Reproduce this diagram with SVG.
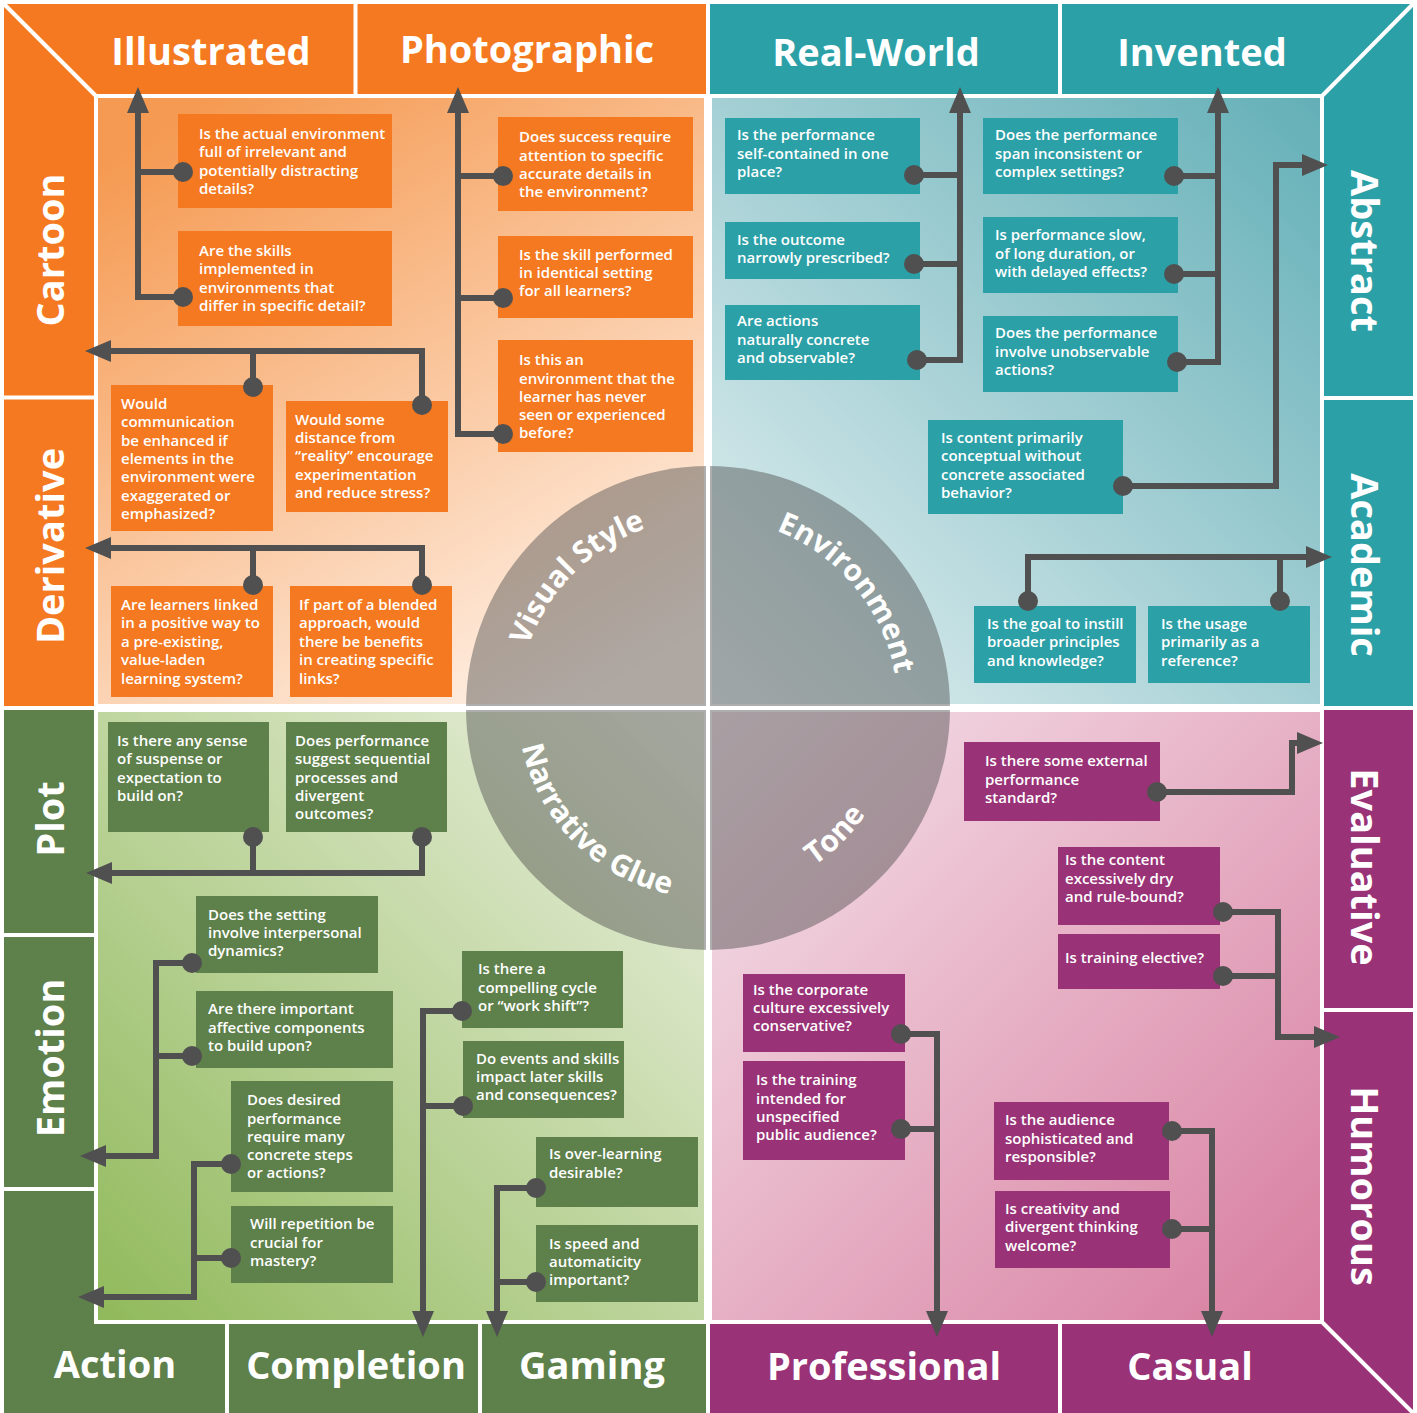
<svg xmlns="http://www.w3.org/2000/svg" width="1417" height="1413" viewBox="0 0 1417 1413">
<defs>
<style>
.t{font-family:"Open Sans","Liberation Sans",sans-serif;font-weight:600;font-size:15px;fill:#fff}
.h{font-family:"Open Sans","Liberation Sans",sans-serif;font-weight:700;font-size:38px;fill:#fff;text-anchor:middle}
.c{font-family:"Open Sans","Liberation Sans",sans-serif;font-weight:700;font-size:30px;fill:#fff;text-anchor:middle}
.ln{fill:none;stroke:#505050;stroke-width:6}
.arr{marker-end:url(#ah)}
.dot{fill:#505050}
.o{fill:#F47920}.tq{fill:#2CA0A7}.g{fill:#5E804A}.p{fill:#993276}
.sep{stroke:#fff;stroke-width:4;fill:none}
.panel{stroke:#fff;stroke-width:4}
</style>
<marker id="ah" markerUnits="userSpaceOnUse" markerWidth="26" markerHeight="22" viewBox="0 0 26 22" refX="6" refY="11" orient="auto">
<path d="M0,0 L26,11 L0,22 z" fill="#505050"/>
</marker>
<linearGradient id="gTL" x1="0.2" y1="0" x2="0.8" y2="1"><stop offset="0" stop-color="#F59A52"/><stop offset="1" stop-color="#FFF3EA"/></linearGradient>
<linearGradient id="gTR" x1="1" y1="0" x2="0" y2="1"><stop offset="0" stop-color="#63AFB7"/><stop offset="1" stop-color="#E6F1F2"/></linearGradient>
<linearGradient id="gBL" x1="0" y1="1" x2="1" y2="0"><stop offset="0" stop-color="#90B95A"/><stop offset="1" stop-color="#EEF2E4"/></linearGradient>
<linearGradient id="gBR" x1="0" y1="0" x2="1" y2="1"><stop offset="0" stop-color="#F6E5EC"/><stop offset="1" stop-color="#D77C9E"/></linearGradient>
</defs>
<rect width="1417" height="1413" fill="#fff"/>

<!-- inner panels -->
<g id="panels">
<rect class="panel" x="96" y="96" width="610" height="610" fill="url(#gTL)"/>
<rect class="panel" x="710" y="96" width="612" height="610" fill="url(#gTR)"/>
<rect class="panel" x="96" y="710" width="610" height="612" fill="url(#gBL)"/>
<rect class="panel" x="710" y="710" width="612" height="612" fill="url(#gBR)"/>
</g>

<!-- bands -->
<g id="band-illustrated"><polygon class="o" points="4,4 357,4 357,94 94,94"/><text class="h" x="211" y="65">Illustrated</text></g>
<g id="band-photographic"><polygon class="o" points="357,4 706,4 706,94 357,94"/><text class="h" x="527" y="63">Photographic</text></g>
<g id="band-cartoon"><polygon class="o" points="4,4 94,94 94,397 4,397"/><text class="h" transform="translate(64,250) rotate(-90)">Cartoon</text></g>
<g id="band-derivative"><polygon class="o" points="4,397 94,397 94,706 4,706"/><text class="h" transform="translate(64,546) rotate(-90)">Derivative</text></g>

<g id="band-realworld"><polygon class="tq" points="710,4 1060,4 1060,94 710,94"/><text class="h" x="876" y="66">Real-World</text></g>
<g id="band-invented"><polygon class="tq" points="1060,4 1413,4 1324,94 1060,94"/><text class="h" x="1202" y="66">Invented</text></g>
<g id="band-abstract"><polygon class="tq" points="1413,4 1413,398 1324,398 1324,94"/><text class="h" transform="translate(1351,251) rotate(90)">Abstract</text></g>
<g id="band-academic"><polygon class="tq" points="1324,398 1413,398 1413,706 1324,706"/><text class="h" transform="translate(1351,565) rotate(90)">Academic</text></g>

<g id="band-plot"><polygon class="g" points="4,710 94,710 94,935 4,935"/><text class="h" transform="translate(64,819) rotate(-90)">Plot</text></g>
<g id="band-emotion"><polygon class="g" points="4,935 94,935 94,1189 4,1189"/><text class="h" transform="translate(64,1058) rotate(-90)">Emotion</text></g>
<g id="band-action"><polygon class="g" points="4,1189 94,1189 94,1324 227,1324 227,1413 4,1413"/><text class="h" x="115" y="1378">Action</text></g>
<g id="band-completion"><polygon class="g" points="227,1324 480,1324 480,1413 227,1413"/><text class="h" x="356" y="1379">Completion</text></g>
<g id="band-gaming"><polygon class="g" points="480,1324 706,1324 706,1413 480,1413"/><text class="h" x="592" y="1379">Gaming</text></g>

<g id="band-evaluative"><polygon class="p" points="1324,710 1413,710 1413,1010 1324,1010"/><text class="h" transform="translate(1351,867) rotate(90)">Evaluative</text></g>
<g id="band-humorous"><polygon class="p" points="1324,1010 1413,1010 1413,1413 1324,1324"/><text class="h" transform="translate(1351,1186) rotate(90)">Humorous</text></g>
<g id="band-professional"><polygon class="p" points="710,1324 1060,1324 1060,1413 710,1413"/><text class="h" x="884" y="1380">Professional</text></g>
<g id="band-casual"><polygon class="p" points="1060,1324 1324,1324 1413,1413 1060,1413"/><text class="h" x="1190" y="1380">Casual</text></g>

<!-- white separators -->
<g id="separators" class="sep">
<line x1="3" y1="3" x2="96" y2="96"/>
<line x1="355.5" y1="4" x2="355.5" y2="96"/>
<line x1="4" y1="397.5" x2="96" y2="397.5"/>
<line x1="1414" y1="3" x2="1322" y2="96"/>
<line x1="1060" y1="4" x2="1060" y2="96"/>
<line x1="1322" y1="398" x2="1413" y2="398"/>
<line x1="4" y1="935" x2="96" y2="935"/>
<line x1="4" y1="1189" x2="96" y2="1189"/>
<line x1="227" y1="1322" x2="227" y2="1413"/>
<line x1="480" y1="1322" x2="480" y2="1413"/>
<line x1="1322" y1="1010" x2="1413" y2="1010"/>
<line x1="1060" y1="1322" x2="1060" y2="1413"/>
<line x1="1322" y1="1322" x2="1414" y2="1414"/>
</g>

<!-- central circle -->
<g id="hub">
<circle cx="708" cy="708" r="242" fill="#4B4B4B" fill-opacity="0.45"/>
<path id="arcVS" d="M 518 708 A 190 190 0 0 1 708 518" fill="none"/>
<path id="arcEN" d="M 708 518 A 190 190 0 0 1 898 708" fill="none"/>
<path id="arcNG" d="M 518 708 A 190 190 0 0 0 708 898" fill="none"/>
<path id="arcTO" d="M 708 898 A 190 190 0 0 0 898 708" fill="none"/>
</g>
<g id="cross" class="sep"><line x1="708" y1="0" x2="708" y2="1413"/><line x1="0" y1="708" x2="1417" y2="708"/></g>
<g id="hub-labels">
<text class="c"><textPath href="#arcVS" startOffset="50%">Visual Style</textPath></text>
<text class="c"><textPath href="#arcEN" startOffset="56%">Environment</textPath></text>
<text class="c"><textPath href="#arcNG" startOffset="50%">Narrative Glue</textPath></text>
<text class="c"><textPath href="#arcTO" startOffset="50%">Tone</textPath></text>
</g>

<!-- TL nodes -->
<g id="n-tl-a"><rect class="o" x="178" y="114" width="214" height="94"/><text class="t"><tspan x="199" y="139">Is the actual environment</tspan><tspan x="199" y="157">full of irrelevant and</tspan><tspan x="199" y="176">potentially distracting</tspan><tspan x="199" y="194">details?</tspan></text></g>
<g id="n-tl-b"><rect class="o" x="178" y="231" width="214" height="95"/><text class="t"><tspan x="199" y="256">Are the skills</tspan><tspan x="199" y="274">implemented in</tspan><tspan x="199" y="293">environments that</tspan><tspan x="199" y="311">differ in specific detail?</tspan></text></g>
<g id="n-tl-c"><rect class="o" x="498" y="117" width="195" height="94"/><text class="t"><tspan x="519" y="142">Does success require</tspan><tspan x="519" y="161">attention to specific</tspan><tspan x="519" y="179">accurate details in</tspan><tspan x="519" y="197">the environment?</tspan></text></g>
<g id="n-tl-d"><rect class="o" x="498" y="236" width="195" height="82"/><text class="t"><tspan x="519" y="260">Is the skill performed</tspan><tspan x="519" y="278">in identical setting</tspan><tspan x="519" y="296">for all learners?</tspan></text></g>
<g id="n-tl-e"><rect class="o" x="498" y="340" width="195" height="112"/><text class="t"><tspan x="519" y="365">Is this an</tspan><tspan x="519" y="384">environment that the</tspan><tspan x="519" y="402">learner has never</tspan><tspan x="519" y="420">seen or experienced</tspan><tspan x="519" y="438">before?</tspan></text></g>
<g id="n-tl-f"><rect class="o" x="111" y="385" width="162" height="146"/><text class="t"><tspan x="121" y="409">Would</tspan><tspan x="121" y="427">communication</tspan><tspan x="121" y="446">be enhanced if</tspan><tspan x="121" y="464">elements in the</tspan><tspan x="121" y="482">environment were</tspan><tspan x="121" y="501">exaggerated or</tspan><tspan x="121" y="519">emphasized?</tspan></text></g>
<g id="n-tl-g"><rect class="o" x="286" y="401" width="162" height="111"/><text class="t"><tspan x="295" y="425">Would some</tspan><tspan x="295" y="443">distance from</tspan><tspan x="295" y="461">“reality” encourage</tspan><tspan x="295" y="480">experimentation</tspan><tspan x="295" y="498">and reduce stress?</tspan></text></g>
<g id="n-tl-h"><rect class="o" x="111" y="586" width="162" height="111"/><text class="t"><tspan x="121" y="610">Are learners linked</tspan><tspan x="121" y="628">in a positive way to</tspan><tspan x="121" y="647">a pre-existing,</tspan><tspan x="121" y="665">value-laden</tspan><tspan x="121" y="684">learning system?</tspan></text></g>
<g id="n-tl-i"><rect class="o" x="290" y="586" width="162" height="111"/><text class="t"><tspan x="299" y="610">If part of a blended</tspan><tspan x="299" y="628">approach, would</tspan><tspan x="299" y="647">there be benefits</tspan><tspan x="299" y="665">in creating specific</tspan><tspan x="299" y="684">links?</tspan></text></g>

<!-- TR nodes -->
<g id="n-tr-1"><rect class="tq" x="725" y="118" width="195" height="76"/><text class="t"><tspan x="737" y="140">Is the performance</tspan><tspan x="737" y="159">self-contained in one</tspan><tspan x="737" y="177">place?</tspan></text></g>
<g id="n-tr-2"><rect class="tq" x="725" y="222" width="195" height="57"/><text class="t"><tspan x="737" y="245">Is the outcome</tspan><tspan x="737" y="263">narrowly prescribed?</tspan></text></g>
<g id="n-tr-3"><rect class="tq" x="725" y="305" width="195" height="75"/><text class="t"><tspan x="737" y="326">Are actions</tspan><tspan x="737" y="345">naturally concrete</tspan><tspan x="737" y="363">and observable?</tspan></text></g>
<g id="n-tr-4"><rect class="tq" x="983" y="118" width="195" height="76"/><text class="t"><tspan x="995" y="140">Does the performance</tspan><tspan x="995" y="159">span inconsistent or</tspan><tspan x="995" y="177">complex settings?</tspan></text></g>
<g id="n-tr-5"><rect class="tq" x="983" y="217" width="195" height="76"/><text class="t"><tspan x="995" y="240">Is performance slow,</tspan><tspan x="995" y="259">of long duration, or</tspan><tspan x="995" y="277">with delayed effects?</tspan></text></g>
<g id="n-tr-6"><rect class="tq" x="983" y="316" width="195" height="76"/><text class="t"><tspan x="995" y="338">Does the performance</tspan><tspan x="995" y="357">involve unobservable</tspan><tspan x="995" y="375">actions?</tspan></text></g>
<g id="n-tr-7"><rect class="tq" x="928" y="420" width="195" height="94"/><text class="t"><tspan x="941" y="443">Is content primarily</tspan><tspan x="941" y="461">conceptual without</tspan><tspan x="941" y="480">concrete associated</tspan><tspan x="941" y="498">behavior?</tspan></text></g>
<g id="n-tr-8"><rect class="tq" x="974" y="606" width="162" height="77"/><text class="t"><tspan x="987" y="629">Is the goal to instill</tspan><tspan x="987" y="647">broader principles</tspan><tspan x="987" y="666">and knowledge?</tspan></text></g>
<g id="n-tr-9"><rect class="tq" x="1148" y="606" width="162" height="77"/><text class="t"><tspan x="1161" y="629">Is the usage</tspan><tspan x="1161" y="647">primarily as a</tspan><tspan x="1161" y="666">reference?</tspan></text></g>

<!-- BL nodes -->
<g id="n-bl-1"><rect class="g" x="108" y="722" width="161" height="110"/><text class="t"><tspan x="117" y="746">Is there any sense</tspan><tspan x="117" y="764">of suspense or</tspan><tspan x="117" y="783">expectation to</tspan><tspan x="117" y="801">build on?</tspan></text></g>
<g id="n-bl-2"><rect class="g" x="286" y="722" width="161" height="110"/><text class="t"><tspan x="295" y="746">Does performance</tspan><tspan x="295" y="764">suggest sequential</tspan><tspan x="295" y="783">processes and</tspan><tspan x="295" y="801">divergent</tspan><tspan x="295" y="819">outcomes?</tspan></text></g>
<g id="n-bl-3"><rect class="g" x="196" y="896" width="182" height="77"/><text class="t"><tspan x="208" y="920">Does the setting</tspan><tspan x="208" y="938">involve interpersonal</tspan><tspan x="208" y="956">dynamics?</tspan></text></g>
<g id="n-bl-4"><rect class="g" x="196" y="991" width="197" height="77"/><text class="t"><tspan x="208" y="1014">Are there important</tspan><tspan x="208" y="1033">affective components</tspan><tspan x="208" y="1051">to build upon?</tspan></text></g>
<g id="n-bl-5"><rect class="g" x="231" y="1081" width="162" height="111"/><text class="t"><tspan x="247" y="1105">Does desired</tspan><tspan x="247" y="1124">performance</tspan><tspan x="247" y="1142">require many</tspan><tspan x="247" y="1160">concrete steps</tspan><tspan x="247" y="1178">or actions?</tspan></text></g>
<g id="n-bl-6"><rect class="g" x="231" y="1206" width="162" height="77"/><text class="t"><tspan x="250" y="1229">Will repetition be</tspan><tspan x="250" y="1248">crucial for</tspan><tspan x="250" y="1266">mastery?</tspan></text></g>
<g id="n-bl-7"><rect class="g" x="462" y="951" width="161" height="77"/><text class="t"><tspan x="478" y="974">Is there a</tspan><tspan x="478" y="993">compelling cycle</tspan><tspan x="478" y="1011">or “work shift”?</tspan></text></g>
<g id="n-bl-8"><rect class="g" x="463" y="1041" width="161" height="77"/><text class="t"><tspan x="476" y="1064">Do events and skills</tspan><tspan x="476" y="1082">impact later skills</tspan><tspan x="476" y="1100">and consequences?</tspan></text></g>
<g id="n-bl-9"><rect class="g" x="536" y="1137" width="162" height="70"/><text class="t"><tspan x="549" y="1159">Is over-learning</tspan><tspan x="549" y="1178">desirable?</tspan></text></g>
<g id="n-bl-10"><rect class="g" x="536" y="1225" width="162" height="77"/><text class="t"><tspan x="549" y="1249">Is speed and</tspan><tspan x="549" y="1267">automaticity</tspan><tspan x="549" y="1285">important?</tspan></text></g>

<!-- BR nodes -->
<g id="n-br-1"><rect class="p" x="964" y="742" width="196" height="79"/><text class="t"><tspan x="985" y="766">Is there some external</tspan><tspan x="985" y="785">performance</tspan><tspan x="985" y="803">standard?</tspan></text></g>
<g id="n-br-2"><rect class="p" x="1058" y="847" width="162" height="78"/><text class="t"><tspan x="1065" y="865">Is the content</tspan><tspan x="1065" y="884">excessively dry</tspan><tspan x="1065" y="902">and rule-bound?</tspan></text></g>
<g id="n-br-3"><rect class="p" x="1058" y="934" width="162" height="55"/><text class="t"><tspan x="1065" y="963">Is training elective?</tspan></text></g>
<g id="n-br-4"><rect class="p" x="743" y="974" width="162" height="78"/><text class="t"><tspan x="753" y="995">Is the corporate</tspan><tspan x="753" y="1013">culture excessively</tspan><tspan x="753" y="1031">conservative?</tspan></text></g>
<g id="n-br-5"><rect class="p" x="743" y="1061" width="162" height="99"/><text class="t"><tspan x="756" y="1085">Is the training</tspan><tspan x="756" y="1104">intended for</tspan><tspan x="756" y="1122">unspecified</tspan><tspan x="756" y="1140">public audience?</tspan></text></g>
<g id="n-br-6"><rect class="p" x="994" y="1102" width="175" height="78"/><text class="t"><tspan x="1005" y="1125">Is the audience</tspan><tspan x="1005" y="1144">sophisticated and</tspan><tspan x="1005" y="1162">responsible?</tspan></text></g>
<g id="n-br-7"><rect class="p" x="995" y="1191" width="175" height="77"/><text class="t"><tspan x="1005" y="1214">Is creativity and</tspan><tspan x="1005" y="1232">divergent thinking</tspan><tspan x="1005" y="1251">welcome?</tspan></text></g>

<!-- connectors -->
<g id="connectors">
<path class="ln arr" d="M183 297 H138 V107"/><path class="ln" d="M183 172 H138"/>
<path class="ln arr" d="M503 434 H458 V107"/><path class="ln" d="M503 176 H458 M503 298 H458"/>
<path class="ln arr" d="M422 405 V351 H105"/><path class="ln" d="M253 387 V351"/>
<path class="ln arr" d="M422 585 V548 H105"/><path class="ln" d="M253 585 V548"/>
<path class="ln arr" d="M917 360 H960 V107"/><path class="ln" d="M914 175 H960 M914 264 H960"/>
<path class="ln arr" d="M1177 362 H1218 V107"/><path class="ln" d="M1174 176 H1218 M1174 274 H1218"/>
<path class="ln arr" d="M1123 486 H1276 V165 H1308"/>
<path class="ln arr" d="M1028 601 V557 H1312"/><path class="ln" d="M1280 601 V557"/>
<path class="ln arr" d="M422 837 V873 H106"/><path class="ln" d="M253 837 V873"/>
<path class="ln arr" d="M192 963 H156 V1156 H100"/><path class="ln" d="M192 1056 H156"/>
<path class="ln arr" d="M231 1164 H194 V1297 H98"/><path class="ln" d="M231 1258 H194"/>
<path class="ln arr" d="M462 1011 H423 V1317"/><path class="ln" d="M463 1106 H423"/>
<path class="ln arr" d="M536 1188 H497 V1317"/><path class="ln" d="M536 1282 H497"/>
<path class="ln arr" d="M1157 792 H1292 V743 H1303"/>
<path class="ln arr" d="M1223 912 H1278 V1037 H1320"/><path class="ln" d="M1223 976 H1278"/>
<path class="ln arr" d="M901 1034 H937 V1317"/><path class="ln" d="M901 1129 H937"/>
<path class="ln arr" d="M1172 1131 H1212 V1317"/><path class="ln" d="M1172 1229 H1212"/>
<g class="dot">
<circle cx="183" cy="172" r="10"/><circle cx="183" cy="297" r="10"/>
<circle cx="503" cy="176" r="10"/><circle cx="503" cy="298" r="10"/><circle cx="503" cy="434" r="10"/>
<circle cx="253" cy="387" r="10"/><circle cx="422" cy="405" r="10"/>
<circle cx="253" cy="585" r="10"/><circle cx="422" cy="585" r="10"/>
<circle cx="914" cy="175" r="10"/><circle cx="914" cy="264" r="10"/><circle cx="917" cy="360" r="10"/>
<circle cx="1174" cy="176" r="10"/><circle cx="1174" cy="274" r="10"/><circle cx="1177" cy="362" r="10"/>
<circle cx="1123" cy="486" r="10"/>
<circle cx="1028" cy="601" r="10"/><circle cx="1280" cy="601" r="10"/>
<circle cx="253" cy="837" r="10"/><circle cx="422" cy="837" r="10"/>
<circle cx="192" cy="963" r="10"/><circle cx="192" cy="1056" r="10"/>
<circle cx="231" cy="1164" r="10"/><circle cx="231" cy="1258" r="10"/>
<circle cx="462" cy="1011" r="10"/><circle cx="463" cy="1106" r="10"/>
<circle cx="536" cy="1188" r="10"/><circle cx="536" cy="1282" r="10"/>
<circle cx="1157" cy="792" r="10"/>
<circle cx="1223" cy="912" r="10"/><circle cx="1223" cy="976" r="10"/>
<circle cx="901" cy="1034" r="10"/><circle cx="901" cy="1129" r="10"/>
<circle cx="1172" cy="1131" r="10"/><circle cx="1172" cy="1229" r="10"/>
</g>
</g>
</svg>
